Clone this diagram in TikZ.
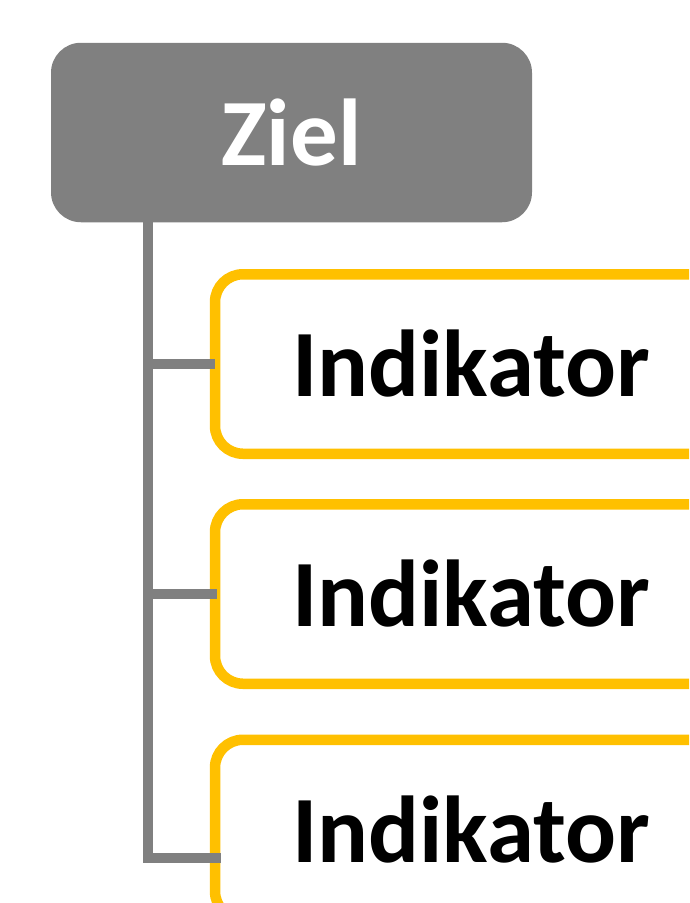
\documentclass[tikz,border=0pt]{standalone}
\usepackage{fontspec}
\setmainfont{Carlito}
\definecolor{zielgrau}{HTML}{808080}
\definecolor{indgelb}{HTML}{FFC000}

\tikzset{
    zielbox/.style={fill=zielgrau, rounded corners=30pt, minimum width=481pt, minimum height=179.5pt,
        inner sep=0pt, outer sep=0pt, text=white, font=\fontsize{95}{95}\selectfont\bfseries},
    indbox/.style={draw=indgelb, fill=white, line width=10.5pt, rounded corners=28pt, minimum width=512pt,
        minimum height=179.5pt, inner sep=0pt, outer sep=0pt, font=\fontsize{95}{95}\selectfont\bfseries},
    ast/.style={draw=zielgrau, line width=10pt, line join=miter}
}

\begin{document}
\begin{tikzpicture}[x=1pt,y=-1pt]
        \useasboundingbox (0,0) rectangle (689,903);
        \clip (0,0) rectangle (689,903);

        \node[zielbox] (ziel) at (291.5,132.5) {Ziel};
        \node[indbox] (ind1) at (471,364) {Indikator};
        \node[indbox] (ind2) at (471,594) {Indikator};
        \node[indbox] (ind3) at (471,829.5) {Indikator};

        \coordinate (stem) at (148,222);
        \coordinate (foot) at (148,858);

        \draw[ast] (stem) -- (foot) -- ([xshift=6pt]foot -| ind3.west);
        \draw[ast] (stem |- ind1.west) -- (ind1.west);
        \draw[ast] (stem |- ind2.west) -- ([xshift=2pt]ind2.west);
    \end{tikzpicture}
\end{document}
